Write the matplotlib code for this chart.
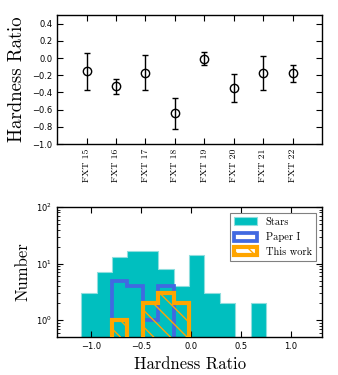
import numpy as np
import matplotlib
matplotlib.use("Agg")
import matplotlib.pyplot as plt

# ---- data ----
sources = ['FXT 15', 'FXT 16', 'FXT 17', 'FXT 18', 'FXT 19', 'FXT 20', 'FXT 21', 'FXT 22']
hr = [-0.15, -0.33, -0.17, -0.64, -0.01, -0.35, -0.17, -0.18]
hr_err_hi = [0.21, 0.09, 0.21, 0.17, 0.08, 0.16, 0.19, 0.10]
hr_err_lo = [0.22, 0.09, 0.20, 0.18, 0.07, 0.16, 0.20, 0.10]

hr_bins = [-1.100, -0.946, -0.792, -0.638, -0.483, -0.329, -0.175,
           -0.021, 0.133, 0.288, 0.442, 0.596, 0.750]
stars_counts = [3, 7, 13, 17, 17, 8, 4, 14, 3, 2, 0, 2]
paper1_counts = [0, 0, 5, 4, 1, 4, 0, 0, 0, 0, 0, 0]
thiswork_counts = [0, 0, 1, 0, 2, 3, 2, 0, 0, 0, 0, 0]

top_yticks = [-1.0, -0.8, -0.6, -0.4, -0.2, 0.0, 0.2, 0.4]
bot_xticks = [-1.0, -0.5, 0.0, 0.5, 1.0]

# ---- style ----
plt.rcParams.update({
    'xtick.direction': 'in', 'ytick.direction': 'in',
    'xtick.top': True, 'ytick.right': True,
    'xtick.major.size': 4, 'ytick.major.size': 4,
    'xtick.minor.size': 2, 'ytick.minor.size': 2,
    'axes.linewidth': 1.0,
    'hatch.linewidth': 1.0,
    'axes.unicode_minus': True,
})
SERIF = 'cmr10'

fig = plt.figure(figsize=(3.38, 3.75), dpi=100)
ax1 = fig.add_axes([0.169, 0.616, 0.784, 0.344])
ax2 = fig.add_axes([0.169, 0.101, 0.784, 0.347])

# ---- top panel ----
x = np.arange(len(sources))
ax1.errorbar(x, hr, yerr=[hr_err_lo, hr_err_hi], fmt='o', mfc='none', mec='k',
             ecolor='k', color='k', ms=6, mew=1.0, elinewidth=1.0,
             capsize=2.5, capthick=1.0)
ax1.set_xlim(-1, len(sources))
ax1.set_ylim(-1.0, 0.5)
ax1.set_yticks(top_yticks)
ax1.set_yticklabels([f'{v:.1f}'.replace('-', '\u2212') for v in top_yticks], fontsize=6)
ax1.set_xticks(x)
ax1.set_xticklabels(sources, rotation=90, fontsize=7, fontfamily=SERIF)
ax1.set_ylabel('Hardness Ratio', fontsize=13.5, fontfamily=SERIF)

# ---- bottom panel ----
ax2.set_yscale('log')
ax2.hist(hr_bins[:-1], bins=hr_bins, weights=stars_counts, histtype='stepfilled',
         facecolor='c', edgecolor='#8fdede', lw=0.8, log=True, label='Stars', zorder=1)
ax2.hist(hr_bins[:-1], bins=hr_bins, weights=paper1_counts, histtype='step',
         color='royalblue', lw=2.7, log=True, label='Paper I', zorder=2)
ax2.hist(hr_bins[:-1], bins=hr_bins, weights=thiswork_counts, histtype='step',
         color='orange', lw=3.0, hatch='\\\\', log=True, label='This work', zorder=3)
ax2.set_xlim(-1.34, 1.31)
ax2.set_ylim(0.5, 100)
ax2.set_xticks(bot_xticks)
ax2.set_xticklabels([f'{v:.1f}'.replace('-', '\u2212') for v in bot_xticks], fontsize=6)
ax2.tick_params(axis='y', labelsize=6)
ax2.set_xlabel('Hardness Ratio', fontsize=12, fontfamily=SERIF)
ax2.set_ylabel('Number', fontsize=12, fontfamily=SERIF)
leg = ax2.legend(loc='upper right', prop={'family': SERIF, 'size': 7.5},
                 fancybox=False, framealpha=1, edgecolor='0.5',
                 handlelength=2.2, handleheight=0.8, borderaxespad=0.6,
                 labelspacing=0.5)
leg.get_frame().set_linewidth(0.8)

fig.savefig('out.png', dpi=100)
